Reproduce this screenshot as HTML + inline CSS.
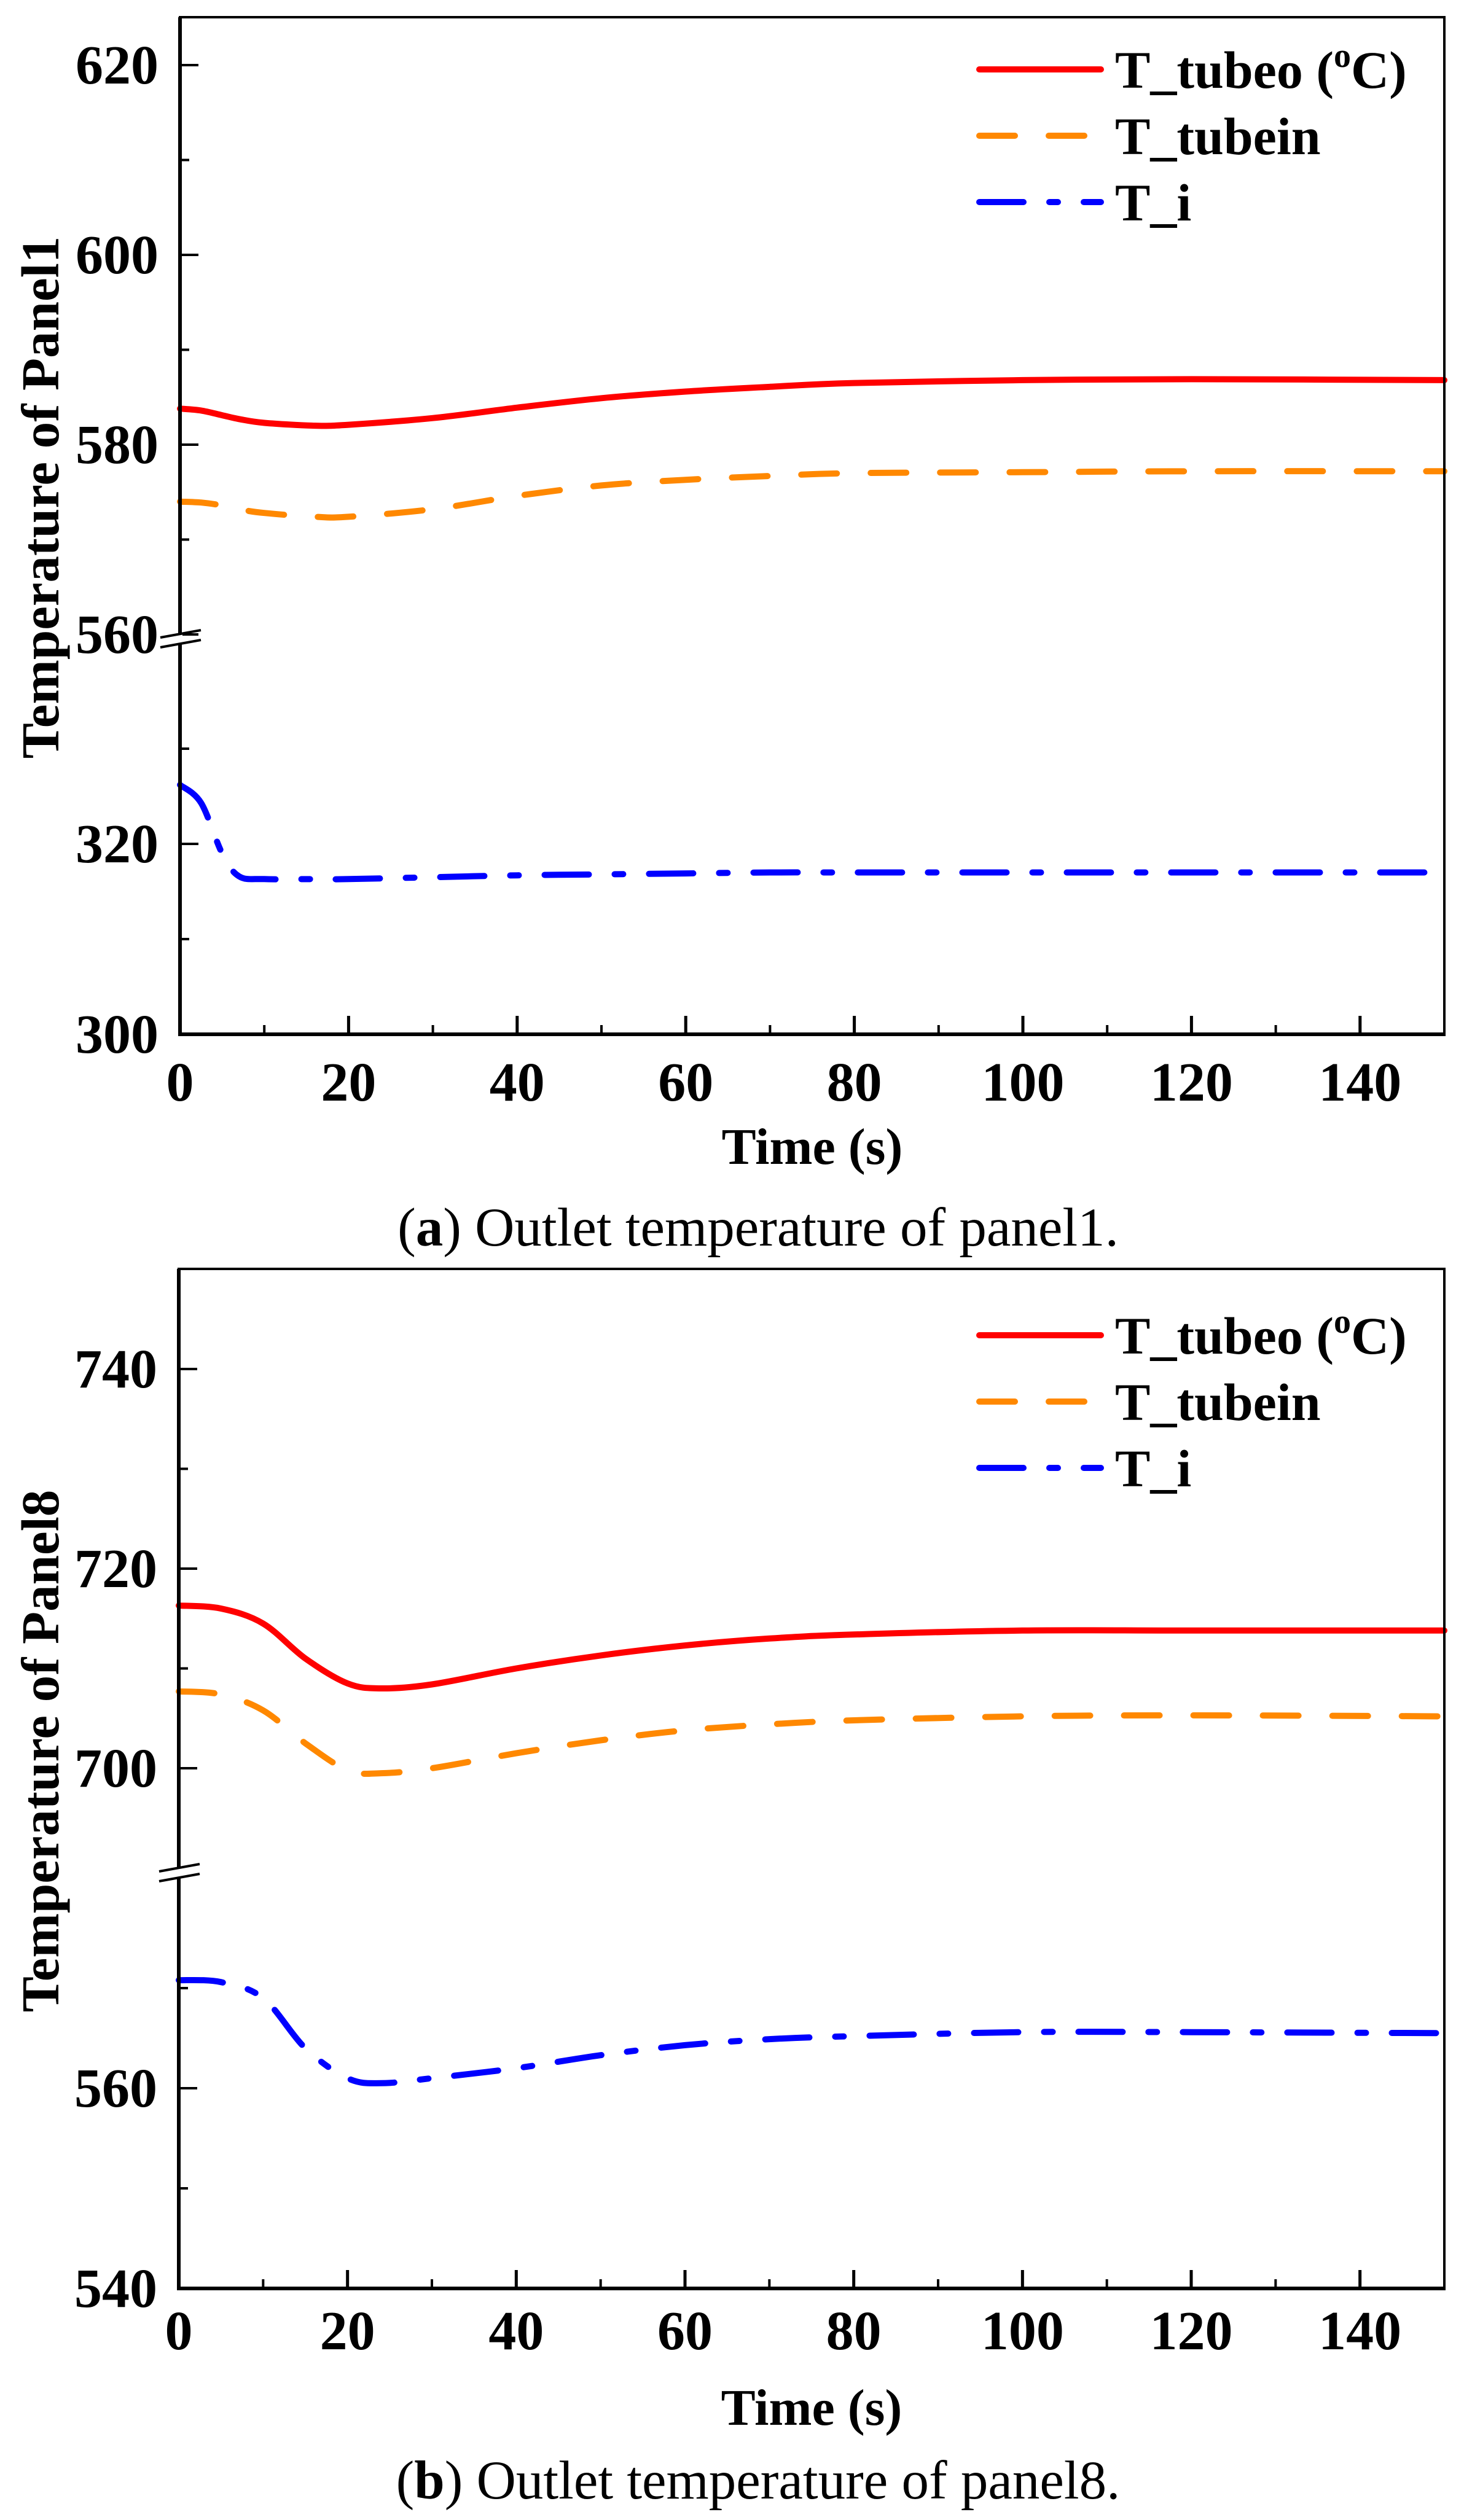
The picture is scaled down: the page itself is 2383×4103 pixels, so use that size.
<!DOCTYPE html>
<html><head><meta charset="utf-8"><style>
html,body{margin:0;padding:0;background:#fff;}
svg{display:block;}
text{font-family:"Liberation Serif",serif;}
</style></head><body>
<svg id="chart" width="2383" height="4103" viewBox="0 0 2383 4103" xmlns="http://www.w3.org/2000/svg">
<rect x="0" y="0" width="2383" height="4103" fill="#fff"/>
</svg>
<script>
const xTicks = [0,20,40,60,80,100,120,140];
const timesA = [0,2.5,5,7,10,16,20,30,40,50,60,70,80,100,120,150];
const redA   = [583.8,583.6,583.1,582.7,582.3,582.0,582.1,582.8,583.9,584.9,585.6,586.1,586.5,586.8,586.9,586.8];
const orangeA= [574.0,573.9,573.6,573.2,572.8,572.4,572.4,573.2,574.6,575.7,576.3,576.7,577.0,577.1,577.2,577.2];
const blueA  = [326.2,324.3,319.0,316.6,316.3,316.3,316.3,316.5,316.7,316.8,316.9,317.0,317.0,317.0,317.0,317.0];
const ticksAUpper = [560,580,600,620];
const ticksALower = [300,320];
const timesB = [0,5,10,15,20,24,30,40,50,60,70,80,100,120,150];
const redB   = [716.3,716.0,714.5,711.0,708.5,708.0,708.4,710.0,711.3,712.3,713.0,713.4,713.8,713.8,713.8];
const orangeB= [707.7,707.4,705.8,702.5,699.8,699.5,700.0,701.5,702.8,703.8,704.4,704.8,705.2,705.3,705.2];
const blueB  = [570.8,570.6,569.0,564.0,561.0,560.5,561.0,562.0,563.3,564.3,564.9,565.2,565.6,565.6,565.5];
const ticksBUpper = [700,720,740];
const ticksBLower = [540,560];

const NS="http://www.w3.org/2000/svg";
const svg=document.getElementById('chart');
function mk(tag,attrs,parent){const e=document.createElementNS(NS,tag);for(const k in attrs)e.setAttribute(k,attrs[k]);(parent||svg).appendChild(e);return e;}

function smoothPath(pts){
  let d='M'+pts[0][0].toFixed(1)+' '+pts[0][1].toFixed(1);
  for(let i=0;i<pts.length-1;i++){
    const p0=pts[Math.max(0,i-1)],p1=pts[i],p2=pts[i+1],p3=pts[Math.min(pts.length-1,i+2)];
    const c1=[p1[0]+(p2[0]-p0[0])/6,p1[1]+(p2[1]-p0[1])/6];
    const c2=[p2[0]-(p3[0]-p1[0])/6,p2[1]-(p3[1]-p1[1])/6];
    d+='C'+c1[0].toFixed(1)+' '+c1[1].toFixed(1)+' '+c2[0].toFixed(1)+' '+c2[1].toFixed(1)+' '+p2[0].toFixed(1)+' '+p2[1].toFixed(1);
  }
  return d;
}

function panel(cfg){
  const g=mk('g',{});
  
  
  const L=cfg.left,R=2351,T=cfg.top,B=cfg.bottom;
  const xs=t=>L+(t/150)*(R-L);
  const yU=v=>cfg.upBase-(v-cfg.upMin)*cfg.upScale;
  const yL=v=>B-(v-cfg.loMin)*cfg.loScale;
  const ys=(v,up)=>up?yU(v):yL(v);
  const series=[[cfg.red,'#ff0000','none','red-line',true],[cfg.orange,'#ff8800','58 55','orange-line',true],[cfg.blue,'#0000ff','72 42 14 42','blue-line',false]];
  series.forEach(s=>{
    const pts=cfg.times.map((t,i)=>[xs(t),ys(s[0][i],s[4])]);
    const p=mk('path',{d:smoothPath(pts),fill:'none',stroke:s[1],'stroke-width':10,'stroke-linecap':'round','stroke-linejoin':'round','stroke-dasharray':s[2]},g);
    
    
  });
  const fr=mk('rect',{x:L,y:T,width:R-L,height:B-T,fill:'none',stroke:'#000','stroke-width':4},g);
  
  
  mk('line',{x1:L,y1:T,x2:L,y2:B+3,stroke:'#000','stroke-width':6},g);
  mk('line',{x1:L-3,y1:B,x2:R+2,y2:B,stroke:'#000','stroke-width':6},g);
  for(let t=0;t<=150;t+=10){
    const maj=t%20===0;
    mk('line',{x1:xs(t),y1:B,x2:xs(t),y2:B-(maj?30:15),stroke:'#000','stroke-width':maj?5:4},g);
  }
  xTicks.forEach(t=>{
    const tx=mk('text',{x:xs(t),y:cfg.xLabY,'text-anchor':'middle','font-size':90,'font-weight':'bold'},g);
    tx.textContent=t;
    
    
  });
  const yt=(y,maj)=>mk('line',{x1:L,y1:y,x2:L+(maj?30:15),y2:y,stroke:'#000','stroke-width':4},g);
  cfg.tU.forEach(v=>{yt(yU(v),true); if(yU(v+10)>T+5) yt(yU(v+10),false);});
  cfg.tL.forEach(v=>{yt(yL(v),true); yt(yL(v+10),false);});
  cfg.tU.forEach(v=>{
    const tx=mk('text',{x:L-35,y:yU(v)+30,'text-anchor':'end','font-size':90,'font-weight':'bold'},g);
    tx.textContent=v;
    
    
  });
  cfg.tL.forEach(v=>{
    const tx=mk('text',{x:L-35,y:yL(v)+30,'text-anchor':'end','font-size':90,'font-weight':'bold'},g);
    tx.textContent=v;
    
    
  });
  const by=cfg.breakY;
  mk('polygon',{points:`${L-4},${by-6} ${L+4},${by-8} ${L+4},${by+6} ${L-4},${by+8}`,fill:'#fff'},g);
  const b1=mk('line',{x1:L-32,y1:by-2,x2:L+34,y2:by-14,stroke:'#000','stroke-width':4},g);
  
  
  mk('line',{x1:L-32,y1:by+14,x2:L+34,y2:by+2,stroke:'#000','stroke-width':4},g);
  const xt=mk('text',{x:(L+R)/2,y:cfg.xTitleY,'text-anchor':'middle','font-size':84,'font-weight':'bold'},g);
  xt.textContent='Time (s)';
  
  
  const yT=mk('text',{x:0,y:0,'text-anchor':'middle','font-size':87,'font-weight':'bold',transform:`translate(95,${cfg.yTitleY}) rotate(-90)`},g);
  yT.textContent=cfg.yTitle;
  
  
  const ly=cfg.legY, labels=['T_tubeo (','T_tubein','T_i'];
  const cols=['#ff0000','#ff8800','#0000ff'], das=['none','58 55','72 42 14 42'];
  for(let i=0;i<3;i++){
    const y=ly+i*108;
    const ln=mk('line',{x1:1594,y1:y,x2:1792,y2:y,stroke:cols[i],'stroke-width':10,'stroke-linecap':'round','stroke-dasharray':das[i]},g);
    
    
    const tx=mk('text',{x:1815,y:y+30,'font-size':86,'font-weight':'bold'},g);
    
    
    if(i===0){
      tx.appendChild(document.createTextNode('T_tubeo ('));
      const s=document.createElementNS(NS,'tspan');s.setAttribute('font-size','56');s.setAttribute('dy','-34');s.textContent='o';tx.appendChild(s);
      const s2=document.createElementNS(NS,'tspan');s2.setAttribute('dy','34');s2.textContent='C)';tx.appendChild(s2);
    } else tx.textContent=labels[i];
  }
  const cp=mk('text',{x:1234,y:cfg.capY,'text-anchor':'middle','font-size':89},g);
  
  
  cp.appendChild(document.createTextNode('('));
  const bb=document.createElementNS(NS,'tspan');bb.setAttribute('font-weight','bold');bb.textContent=cfg.letter;cp.appendChild(bb);
  cp.appendChild(document.createTextNode(') '+cfg.caption));
}

panel({name:'panel-a-chart',left:293,top:28,bottom:1684,upMin:560,upBase:1033,upScale:15.45,loMin:300,loScale:15.5,
  times:timesA,red:redA,orange:orangeA,blue:blueA,tU:ticksAUpper,tL:ticksALower,breakY:1040,
  xLabY:1792,xTitleY:1895,yTitleY:810,yTitle:'Temperature of Panel1',legY:113,capY:2028,letter:'a',caption:'Outlet temperature of panel1.'});
panel({name:'panel-b-chart',left:291,top:2066,bottom:3726,upMin:700,upBase:2879,upScale:16.25,loMin:540,loScale:16.3,
  times:timesB,red:redB,orange:orangeB,blue:blueB,tU:ticksBUpper,tL:ticksBLower,breakY:3049,
  xLabY:3825,xTitleY:3948,yTitleY:2851,yTitle:'Temperature of Panel8',legY:2174,capY:4068,letter:'b',caption:'Outlet temperature of panel8.'});
</script>
</body></html>
